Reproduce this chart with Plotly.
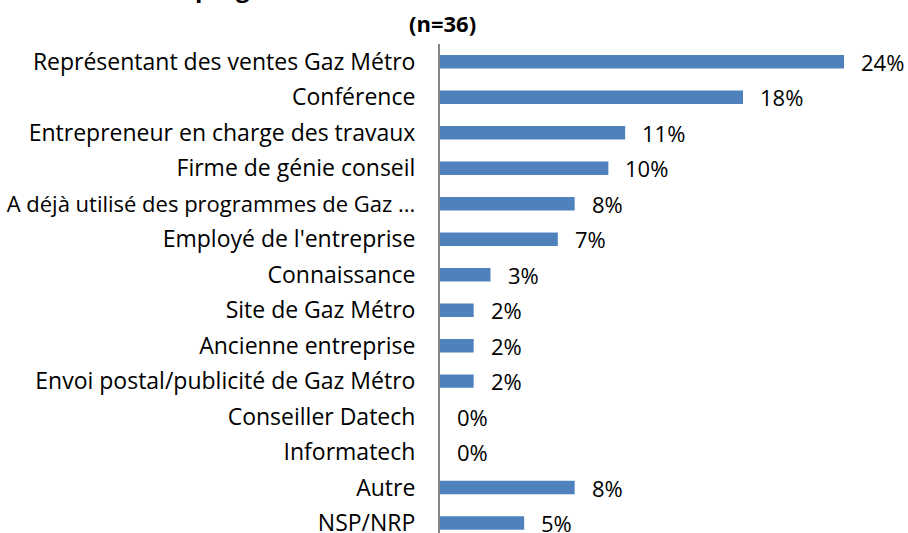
import plotly.graph_objects as go

categories = [
    "Représentant des ventes Gaz Métro",
    "Conférence",
    "Entrepreneur en charge des travaux",
    "Firme de génie conseil",
    "A déjà utilisé des programmes de Gaz ...",
    "Employé de l'entreprise",
    "Connaissance",
    "Site de Gaz Métro",
    "Ancienne entreprise",
    "Envoi postal/publicité de Gaz Métro",
    "Conseiller Datech",
    "Informatech",
    "Autre",
    "NSP/NRP",
]
values = [24, 18, 11, 10, 8, 7, 3, 2, 2, 2, 0, 0, 8, 5]
value_labels = [f"{v}%" for v in values]
title_line = "programme de subventions de Gaz Métro"
subtitle = "(n=36)"

FONT = "Open Sans"

tick_text = [
    ('<span style="font-size:22px">' + c + '</span>') if len(c) > 36 else c
    for c in categories
]

fig = go.Figure()
fig.add_trace(go.Bar(
    x=values,
    y=categories,
    orientation="h",
    marker=dict(color="#4F81BD", line=dict(width=0)),
    width=0.38,
    hoverinfo="skip",
))

for c, v, t in zip(categories, values, value_labels):
    fig.add_annotation(x=v, y=c, text=t, showarrow=False, xanchor="left",
                       xshift=15, font=dict(family=FONT, size=22, color="#000000"))

fig.add_annotation(xref="paper", yref="paper", x=0.005, y=1, yanchor="bottom",
                   xanchor="center", text="<b>" + title_line + "</b>", showarrow=False,
                   yshift=38, font=dict(family=FONT, size=24, color="#000000"))
fig.add_annotation(xref="paper", yref="paper", x=0.005, y=1, yanchor="bottom",
                   xanchor="center", text="<b>" + subtitle + "</b>", showarrow=False,
                   yshift=4, font=dict(family=FONT, size=22, color="#000000"))

fig.update_layout(
    width=908, height=533,
    margin=dict(l=440, r=0, t=44, b=0, autoexpand=False),
    paper_bgcolor="white", plot_bgcolor="white",
    showlegend=False,
    font=dict(family=FONT, size=23, color="#000000"),
    xaxis=dict(range=[0, 27.8], visible=False, fixedrange=True, automargin=False),
    yaxis=dict(
        type="category",
        categoryorder="array", categoryarray=categories,
        tickmode="array", tickvals=categories, ticktext=tick_text,
        range=[13.28, -0.5],
        automargin=False,
        showline=True, linecolor="#868686", linewidth=2,
        ticks="", showgrid=False, zeroline=False,
        ticklabelstandoff=18,
        tickfont=dict(family=FONT, size=23, color="#000000"),
    ),
)

fig.write_html("out.html", config={"displayModeBar": False},
               post_script="document.body.style.margin='0';document.body.style.overflow='hidden';")
